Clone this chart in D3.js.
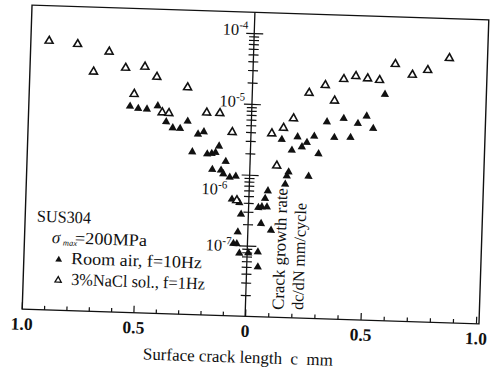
<!DOCTYPE html>
<html><head><meta charset="utf-8">
<script src="https://cdn.jsdelivr.net/npm/d3@7"></script>
<style>
body{margin:0;background:#fff}
svg{display:block}
text{font-family:"Liberation Serif","Times New Roman",serif;fill:#111}
</style>
</head><body>
<svg id="chart" width="492" height="369"></svg>
<script>
// ---- data (x: signed crack length, left side negative; y: dc/dN mm/cycle) ----
const roomAirX = [-0.545,-0.508,-0.469,-0.421,-0.381,-0.351,-0.318,-0.285,-0.237,-0.211,
  -0.260,-0.193,-0.173,-0.156,-0.141,-0.109,-0.168,-0.129,-0.118,-0.089,-0.062,-0.076,
  -0.042,-0.033,-0.045,-0.063,-0.048,-0.035,
  0.005,0.046,0.048,0.100,0.056,0.042,0.057,0.079,0.070,0.081,0.155,0.168,0.161,0.255,
  0.134,0.179,0.202,0.222,0.243,0.274,0.295,0.327,0.361,0.399,0.431,0.461,0.498,0.528,0.574];
const roomAirY = [8.17e-6,7.65e-6,7.56e-6,8.51e-6,5.11e-6,4.23e-6,4.18e-6,5.34e-6,3.54e-6,3.84e-6,
  1.98e-6,1.88e-6,1.92e-6,1.99e-6,2.45e-6,1.50e-6,1.14e-6,1.12e-6,1.00e-6,9.04e-7,9.39e-7,4.43e-7,
  3.98e-7,2.74e-7,1.54e-7,1.05e-7,1.05e-7,7.70e-8,
  7.85e-8,8.18e-8,5.03e-8,1.68e-7,2.07e-7,3.47e-7,3.56e-7,3.57e-7,4.69e-7,6.03e-7,7.63e-7,1.14e-6,1.00e-6,1.01e-6,
  3.25e-6,2.32e-6,3.60e-6,2.61e-6,3.03e-6,3.74e-6,2.12e-6,6.04e-6,3.66e-6,6.87e-6,3.72e-6,5.92e-6,7.59e-6,5.12e-6,1.57e-5];
const naclX = [-0.916,-0.788,-0.646,-0.713,-0.570,-0.484,-0.429,-0.290,-0.528,-0.400,-0.370,
  -0.201,-0.142,-0.084,-0.054,
  0.090,0.140,0.182,0.116,0.246,0.315,0.357,0.394,0.446,0.497,0.549,0.615,0.690,0.756,0.848];
const naclY = [6.28e-5,5.82e-5,4.69e-5,2.41e-5,2.83e-5,2.99e-5,2.18e-5,1.60e-5,1.22e-5,6.90e-6,6.79e-6,
  7.18e-6,7.16e-6,3.92e-6,4.30e-7,
  3.91e-6,4.75e-6,6.52e-6,1.38e-6,1.52e-5,1.99e-5,1.21e-5,2.47e-5,2.75e-5,2.58e-5,2.48e-5,4.24e-5,3.05e-5,3.61e-5,5.45e-5];

const xMajorTicks = [-1,-0.5,0,0.5,1];
const xTickLabels = ["1.0","0.5","0","0.5","1.0"];
const xMinorTicks = [-0.9,-0.8,-0.7,-0.6,-0.4,-0.3,-0.2,-0.1,0.1,0.2,0.3,0.4,0.6,0.7,0.8,0.9];
const yDecades = [1e-4,1e-5,1e-6,1e-7,1e-8];
const yLabelExps = ["-4","-5","-6","-7"];
const legendTitle = "SUS304";
const legendStress = "=200MPa";
const seriesNames = ["Room air, f=10Hz","3%NaCl sol., f=1Hz"];
const yTitle = ["Crack growth rate","dc/dN mm/cycle"];
const xTitle = "Surface crack length  c  mm";

// ---- layout ----
const frame = {l:27, r:484, t:12.4, b:316.6};
const yLabelNudge = [[-6,2.3],[-7,3.3],[-22,20.8],[-16,6]]; // [dx from axis, dy from tick]

const svg = d3.select("#chart");
const g = svg.append("g").attr("transform","rotate(1.85,255.5,164.5)");

const x = d3.scaleLinear().domain([-1,0,1]).range([26.5,250,481]);
const y = d3.scaleLog().domain([1e-8,1.97e-4]).range([frame.b,frame.t]);

// frame
g.append("rect").attr("x",frame.l).attr("y",frame.t)
  .attr("width",frame.r-frame.l).attr("height",frame.b-frame.t)
  .attr("fill","none").attr("stroke","#111").attr("stroke-width",1.4);

// bottom axis: minor and major ticks pointing up
const axMinor = d3.axisBottom(x).tickValues(xMinorTicks).tickSizeInner(-4).tickSizeOuter(0).tickFormat("");
const axMajor = d3.axisBottom(x).tickValues(xMajorTicks).tickSizeInner(-7).tickSizeOuter(0).tickPadding(4)
  .tickFormat((d,i)=>xTickLabels[i]);
const gm = g.append("g").attr("transform",`translate(0,${frame.b})`).call(axMinor);
const gM = g.append("g").attr("transform",`translate(0,${frame.b})`).call(axMajor);
[gm,gM].forEach(s=>{s.select(".domain").remove(); s.selectAll("line").attr("stroke","#111").attr("stroke-width",1.2);});
gM.selectAll("text").attr("font-size",17.5).attr("font-family","Liberation Serif").attr("fill","#111")
  .attr("font-weight","bold").attr("dy","0.95em");

// vertical axis at x=0, ticks on both sides
const x0 = x(0);
g.append("line").attr("x1",x0).attr("x2",x0).attr("y1",frame.t).attr("y2",frame.b)
  .attr("stroke","#111").attr("stroke-width",1.3);
const minorY = [];
for (let e=-8; e<-4; e++) for (let m=2; m<=9; m++) minorY.push(m*Math.pow(10,e));
const yMajorVals = yDecades.slice(0,4);
const axL = d3.axisLeft(y).tickValues(minorY).tickSizeInner(5).tickSizeOuter(0).tickFormat("");
const axR = d3.axisRight(y).tickValues(minorY).tickSizeInner(5).tickSizeOuter(0).tickFormat("");
const axLM = d3.axisLeft(y).tickValues(yMajorVals).tickSizeInner(8).tickSizeOuter(0).tickFormat("");
const axRM = d3.axisRight(y).tickValues(yMajorVals).tickSizeInner(9).tickSizeOuter(0).tickFormat("");
[axL,axR,axLM,axRM].forEach(a=>{
  const s = g.append("g").attr("transform",`translate(${x0},0)`).call(a);
  s.select(".domain").remove();
  s.selectAll("line").attr("stroke","#111").attr("stroke-width",1.2);
});

// y labels 10^n
yLabelExps.forEach((ex,i)=>{
  const t = g.append("text").attr("x",x0+yLabelNudge[i][0]).attr("y",y(yDecades[i])+yLabelNudge[i][1])
    .attr("text-anchor","end").attr("font-size",16.5);
  t.append("tspan").text("10");
  t.append("tspan").attr("font-size",11).attr("dy",-6.5).text(ex);
});

// data points
const tri = d3.symbol().type(d3.symbolTriangle);
const naclData = naclX.map((v,i)=>[v,naclY[i]]);
const airData = roomAirX.map((v,i)=>[v,roomAirY[i]]);
g.append("g").selectAll("path").data(airData).join("path")
  .attr("d",tri.size(30)())
  .attr("transform",d=>`translate(${x(d[0])},${y(d[1])})`)
  .attr("fill","#111");
g.append("g").selectAll("path").data(naclData).join("path")
  .attr("d",tri.size(27)())
  .attr("transform",d=>`translate(${x(d[0])},${y(d[1])})`)
  .attr("fill","#fff").attr("stroke","#111").attr("stroke-width",1.6);

// legend
g.append("text").attr("x",38.8).attr("y",228.8).attr("font-size",17)
  .attr("textLength",54).attr("lengthAdjust","spacingAndGlyphs").text(legendTitle);
const st = g.append("text").attr("y",249.5).attr("font-size",17);
st.append("tspan").attr("x",54.5).attr("font-style","italic").text("σ");
st.append("tspan").attr("x",65.5).attr("dy",2.3).attr("font-size",8.5).attr("font-style","italic").text("max");
st.append("tspan").attr("x",77.5).attr("dy",-2.3).attr("textLength",72).attr("lengthAdjust","spacingAndGlyphs").text(legendStress);
g.append("path").attr("d",tri.size(20)()).attr("transform","translate(61.9,265.9)").attr("fill","#111");
g.append("path").attr("d",tri.size(17)()).attr("transform","translate(62,286.6)")
  .attr("fill","#fff").attr("stroke","#111").attr("stroke-width",1.3);
g.append("text").attr("x",74.2).attr("y",270).attr("font-size",17)
  .attr("textLength",131).attr("lengthAdjust","spacingAndGlyphs").text(seriesNames[0]);
g.append("text").attr("x",74.9).attr("y",291).attr("font-size",17)
  .attr("textLength",134).attr("lengthAdjust","spacingAndGlyphs").text(seriesNames[1]);

// y axis title (vertical)
g.append("text").attr("transform","translate(288.2,309.1) rotate(-90)").attr("font-size",17)
  .attr("textLength",122).attr("lengthAdjust","spacingAndGlyphs").text(yTitle[0]);
g.append("text").attr("transform","translate(307.7,308.5) rotate(-90)").attr("font-size",16.5)
  .attr("textLength",107).attr("lengthAdjust","spacingAndGlyphs").text(yTitle[1]);

// x axis title
g.append("text").attr("x",149.1).attr("y",363).attr("font-size",17)
  .style("white-space","pre").attr("textLength",190).attr("lengthAdjust","spacingAndGlyphs").text(xTitle);
</script>
</body></html>
